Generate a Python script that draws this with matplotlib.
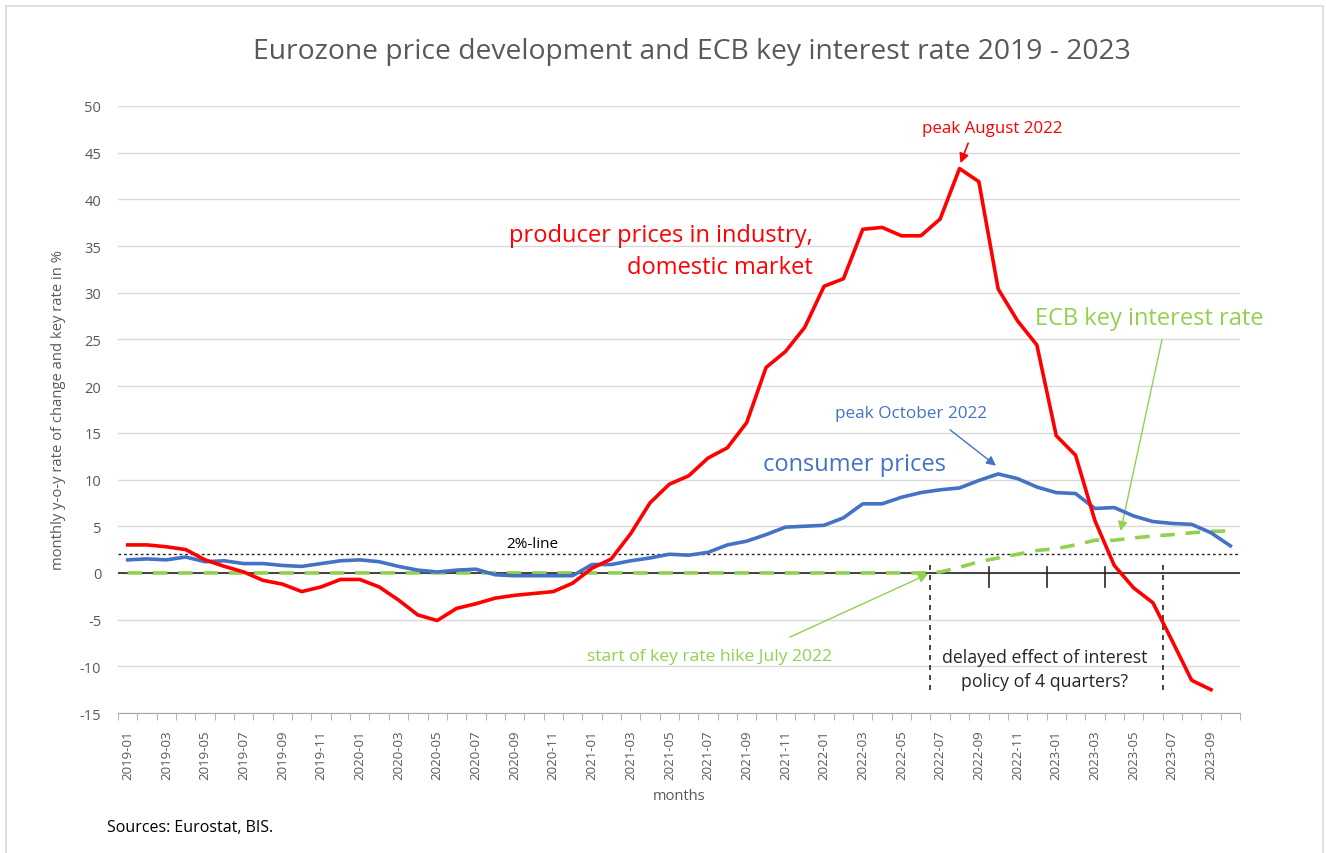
import matplotlib
matplotlib.use("Agg")
import matplotlib.pyplot as plt
from matplotlib.patches import Rectangle
import numpy as np

months = [f"{y}-{m:02d}" for y in range(2019, 2024) for m in range(1, 13)][:58]

producer = [3.0, 3.0, 2.8, 2.5, 1.4, 0.7, 0.1, -0.8, -1.2, -2.0, -1.5, -0.7,
            -0.7, -1.5, -2.9, -4.5, -5.1, -3.8, -3.3, -2.7, -2.4, -2.2, -2.0, -1.1,
            0.5, 1.5, 4.2, 7.5, 9.5, 10.4, 12.3, 13.4, 16.1, 22.0, 23.7, 26.3,
            30.7, 31.5, 36.8, 37.0, 36.1, 36.1, 37.9, 43.3, 41.9, 30.4, 27.0, 24.4,
            14.7, 12.6, 5.6, 0.8, -1.6, -3.2, -7.3, -11.5, -12.5]

consumer = [1.4, 1.5, 1.4, 1.7, 1.2, 1.3, 1.0, 1.0, 0.8, 0.7, 1.0, 1.3,
            1.4, 1.2, 0.7, 0.3, 0.1, 0.3, 0.4, -0.2, -0.3, -0.3, -0.3, -0.3,
            0.9, 0.9, 1.3, 1.6, 2.0, 1.9, 2.2, 3.0, 3.4, 4.1, 4.9, 5.0,
            5.1, 5.9, 7.4, 7.4, 8.1, 8.6, 8.9, 9.1, 9.9, 10.6, 10.1, 9.2,
            8.6, 8.5, 6.9, 7.0, 6.1, 5.5, 5.3, 5.2, 4.3, 2.9]

key_rate = [0.0] * 42 + [0.1, 0.6, 1.2, 1.6, 2.0, 2.4, 2.6, 3.0, 3.5, 3.5,
                          3.75, 3.95, 4.1, 4.3, 4.45, 4.5]

yticks = list(range(-15, 51, 5))

x = np.arange(len(months))

plt.rcParams['font.family'] = ['Open Sans', 'DejaVu Sans']
fig = plt.figure(figsize=(13.26, 8.54), dpi=100)
ax = fig.add_axes([118/1326, 1-714/854, (1240-118)/1326, (714-107)/854])

gray = "#595959"
red = "#FF0000"
blue = "#4472C4"
green = "#92D050"

ax.set_xlim(-0.5, len(months) - 0.5)
ax.set_ylim(-15, 50)
ax.set_yticks(yticks)
ax.set_yticklabels([str(v) for v in yticks], color=gray, fontsize=10.5)
ax.yaxis.grid(True, color="#D9D9D9", linewidth=1.0)
ax.set_axisbelow(True)
for s in ["top", "right", "left"]:
    ax.spines[s].set_visible(False)
ax.spines["bottom"].set_color("#A6A6A6")
ax.tick_params(axis="y", length=0, pad=12)

ax.set_xticks(x[::2])
ax.set_xticklabels(months[::2], rotation=90, color=gray, fontsize=9.5)
ax.set_xticks(np.arange(-0.5, len(months), 1), minor=True)
ax.tick_params(axis="x", which="major", length=0, pad=12)
ax.tick_params(axis="x", which="minor", length=5, color="#A6A6A6")

# zero line and 2% line
ax.plot([-0.5, len(months) - 0.5], [0, 0], color="#262626", lw=1.2, zorder=2)
ax.plot([-0.5, len(months) - 0.5], [2, 2], color="#262626", lw=1.0,
        linestyle=(0, (2, 2)), zorder=2)

# quarter markers
for q in [44.5, 47.5, 50.5]:
    ax.plot([q, q], [0.6, -1.5], color="#262626", lw=1.2, zorder=2)
for q in [41.5, 53.5]:
    ax.plot([q, q], [0.8, -12.7], color="#262626", lw=1.2,
            linestyle=(0, (3, 3)), zorder=2)

ax.plot(x[:len(key_rate)], key_rate, color=green, lw=2.6,
        linestyle=(0, (4, 3)), zorder=3)
ax.plot(x[:len(consumer)], consumer, color=blue, lw=2.6, zorder=4)
ax.plot(x[:len(producer)], producer, color=red, lw=2.6, zorder=5)

ax.set_xlabel("months", color=gray, fontsize=10.5, labelpad=6)
ax.set_ylabel("monthly y-o-y rate of change and key rate in %", color=gray,
              fontsize=10.6, labelpad=10)

fig.text(692/1326, 1-52/854, "Eurozone price development and ECB key interest rate 2019 - 2023",
         ha="center", va="center", fontsize=20.3, color=gray)
fig.text(107/1326, 1-828/854, "Sources: Eurostat, BIS.", ha="left", va="center",
         fontsize=11.5, color="black")

# annotations
ax.text(35.4, 36.2, "producer prices in industry,", color=red, fontsize=17,
        ha="right", va="center")
ax.text(35.4, 32.8, "domestic market", color=red, fontsize=17,
        ha="right", va="center")
ax.text(44.7, 47.6, "peak August 2022", color=red, fontsize=12.2,
        ha="center", va="center")
ax.annotate("", xy=(43.0, 43.6), xytext=(43.5, 46.3),
            arrowprops=dict(arrowstyle="-|>", color=red, lw=1.2, mutation_scale=14))

ax.text(40.5, 17.1, "peak October 2022", color=blue, fontsize=12.3,
        ha="center", va="center")
ax.annotate("", xy=(45.0, 11.3), xytext=(42.4, 15.5),
            arrowprops=dict(arrowstyle="-|>", color=blue, lw=1.0, mutation_scale=14))
ax.text(32.85, 11.7, "consumer prices", color=blue, fontsize=17,
        ha="left", va="center")

ax.text(46.9, 27.3, "ECB key interest rate", color=green, fontsize=17,
        ha="left", va="center")
ax.annotate("", xy=(51.3, 4.2), xytext=(53.5, 25.3),
            arrowprops=dict(arrowstyle="-|>", color=green, lw=1.0, mutation_scale=14))

ax.text(30.1, -8.9, "start of key rate hike July 2022", color=green, fontsize=12.6,
        ha="center", va="center")
ax.annotate("", xy=(41.5, 0.0), xytext=(34.1, -7.0),
            arrowprops=dict(arrowstyle="-|>", color=green, lw=1.0, mutation_scale=14))

ax.text(20.9, 3.2, "2%-line", color="black", fontsize=11, ha="center", va="center")

ax.text(47.4, -9.0, "delayed effect of interest", color="#262626", fontsize=12.8,
        ha="center", va="center")
ax.text(47.4, -11.6, "policy of 4 quarters?", color="#262626", fontsize=12.8,
        ha="center", va="center")

# chart border
fig.patches.append(Rectangle((6/1326, -0.01), (1323-6)/1326, 1-7/854 + 0.01,
                             transform=fig.transFigure, fill=False,
                             edgecolor="#D9D9D9", lw=1.2))

fig.savefig("out.png", dpi=100)
